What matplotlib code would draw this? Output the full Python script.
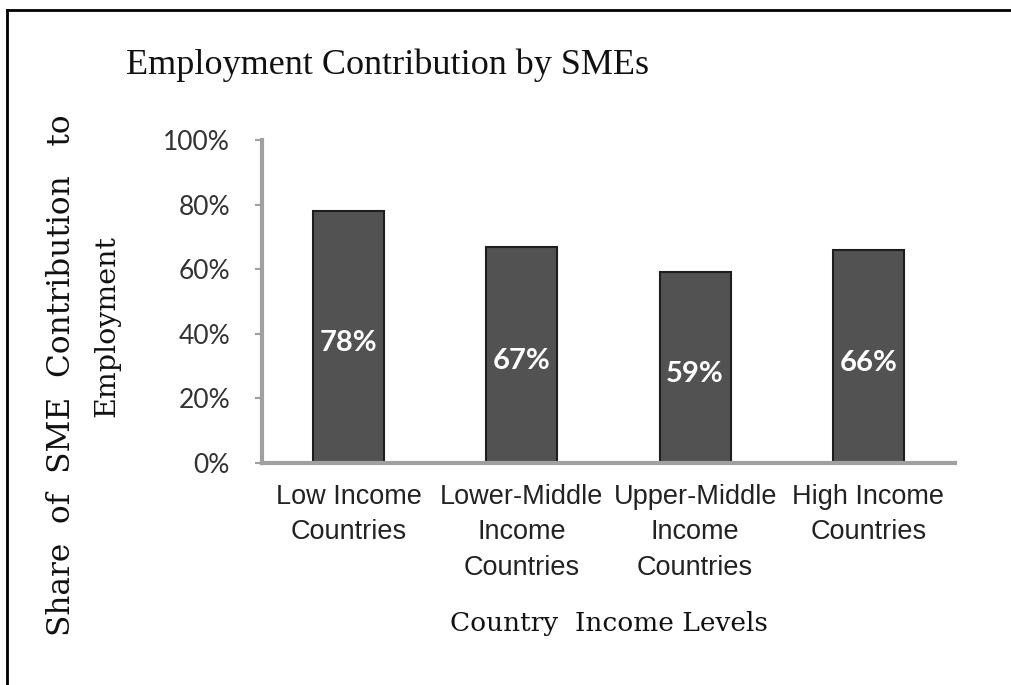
import matplotlib
matplotlib.use("Agg")
import matplotlib.pyplot as plt
from matplotlib.lines import Line2D

# Data
categories = ["Low Income\nCountries", "Lower-Middle\nIncome\nCountries",
              "Upper-Middle\nIncome\nCountries", "High Income\nCountries"]
shares = [0.78, 0.67, 0.59, 0.66]
yticks = [0.0, 0.2, 0.4, 0.6, 0.8, 1.0]
ytick_labels = ["0%", "20%", "40%", "60%", "80%", "100%"]

W, H = 1011, 685
fig = plt.figure(figsize=(W / 100, H / 100), dpi=100)
ax = fig.add_axes([262 / W, 1 - 463 / H, (955 - 262) / W, (463 - 140) / H])

x = range(len(categories))
bars = ax.bar(x, shares, width=0.41, color="#525252", edgecolor="#1e1e1e", linewidth=1.5)

for b, v in zip(bars, shares):
    ax.text(b.get_x() + b.get_width() / 2, v / 2 - 0.02, f"{round(v * 100)}%",
            ha="center", va="center", color="white", fontsize=21,
            fontweight="bold", family=["Lato", "DejaVu Sans"])

ax.set_xlim(-0.5, 3.5)
ax.set_ylim(0, 1)
ax.set_yticks(yticks)
ax.set_yticklabels(ytick_labels, family=["Lato", "DejaVu Sans"], fontsize=19, color="#333333")
ax.set_xticks(list(x))
ax.set_xticklabels(categories, family=["Liberation Sans", "DejaVu Sans"],
                   fontsize=19.5, color="#222222", linespacing=1.47)
ax.tick_params(axis="x", length=0, pad=15)
ax.tick_params(axis="y", length=5, width=1.5, color="#a0a0a0", pad=18)

for side in ["top", "right"]:
    ax.spines[side].set_visible(False)
for side in ["left", "bottom"]:
    ax.spines[side].set_color("#a0a0a0")
    ax.spines[side].set_linewidth(3)

ax.set_xlabel("Country  Income Levels", family="DejaVu Serif", fontsize=19,
              color="#111111", labelpad=22)

fig.text(388 / W, 1 - 65 / H, "Employment Contribution by SMEs", ha="center", va="center",
         family="Liberation Serif", fontsize=26, color="#111111")
fig.text(62 / W, 1 - 375 / H, "Share  of  SME  Contribution   to", rotation=90,
         ha="center", va="center", family="DejaVu Serif", fontsize=22.5, color="#111111")
fig.text(107 / W, 1 - 326 / H, "Employment", rotation=90,
         ha="center", va="center", family="DejaVu Serif", fontsize=20.5, color="#111111")

# page frame: top and left edges
fig.add_artist(Line2D([7 / W, 1.0], [1 - 10 / H, 1 - 10 / H], transform=fig.transFigure,
                      color="black", lw=2))
fig.add_artist(Line2D([7 / W, 7 / W], [0.0, 1 - 10 / H], transform=fig.transFigure,
                      color="black", lw=2))

fig.savefig("out.png", dpi=100)
